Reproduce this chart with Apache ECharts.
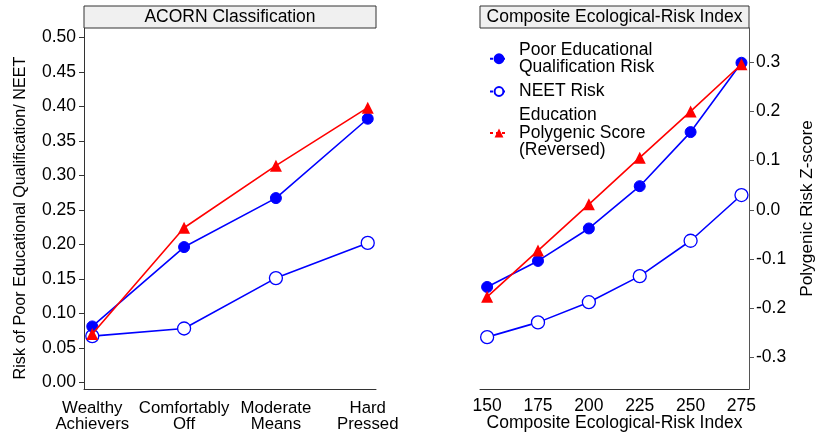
<!DOCTYPE html>
<html>
<head>
<meta charset="utf-8">
<script src="https://cdn.jsdelivr.net/npm/echarts@6/dist/echarts.min.js"></script>
<style>html,body{margin:0;padding:0;background:#fff}#c{width:824px;height:432px}</style>
</head>
<body>
<div id="c"></div>
<script>
// ---- data ----
const acornCategories = ['Wealthy\nAchievers', 'Comfortably\nOff', 'Moderate\nMeans', 'Hard\nPressed'];
const acornPoorEdu = [0.081, 0.196, 0.267, 0.382];
const acornNeet = [0.067, 0.078, 0.151, 0.202];
const acornPgs = [0.070, 0.224, 0.314, 0.398];

const eriIndex = [150, 175, 200, 225, 250, 275];
const eriPoorEdu = [-0.157, -0.104, -0.038, 0.048, 0.158, 0.299];
const eriNeet = [-0.259, -0.229, -0.188, -0.135, -0.063, 0.030];
const eriPgs = [-0.177, -0.083, 0.011, 0.106, 0.200, 0.296];

const leftYTicks = [0, 0.05, 0.10, 0.15, 0.20, 0.25, 0.30, 0.35, 0.40, 0.45, 0.50];
const rightYTicks = [-0.3, -0.2, -0.1, 0.0, 0.1, 0.2, 0.3];

const seriesNames = ['Poor Educational\nQualification Risk', 'NEET Risk', 'Education\nPolygenic Score\n(Reversed)'];
const panelTitles = ['ACORN Classification', 'Composite Ecological-Risk Index'];
const leftYTitle = 'Risk of Poor Educational Qualification/ NEET';

// ---- chart ----
const FONT = 'Liberation Sans, Arial, Helvetica, sans-serif';
const FS = 17.5;
const BLUE = '#0000ff', RED = '#ff0000', AX = '#333';
const chart = echarts.init(document.getElementById('c'), null, {renderer: 'canvas'});

const pair = (xs, ys) => xs.map((x, i) => [x, ys[i]]);
const acornIdx = acornCategories.map((_, i) => i);

function mkSeries(name, xi, yi, data, kind) {
  const base = {
    name, type: 'line', xAxisIndex: xi, yAxisIndex: yi, data,
    animation: false, symbolSize: 11,
    lineStyle: {width: 1.6, color: kind === 'pgs' ? RED : BLUE}
  };
  if (kind === 'poor') {
    base.symbol = 'circle';
    base.itemStyle = {color: BLUE, borderColor: BLUE, borderWidth: 1};
    base.z = 3;
  } else if (kind === 'neet') {
    base.symbol = 'circle';
    base.symbolSize = 13;
    base.itemStyle = {color: '#fff', borderColor: BLUE, borderWidth: 1.3};
    base.z = 2;
  } else {
    base.symbol = 'triangle';
    base.symbolSize = 12;
    base.itemStyle = {color: RED, borderColor: RED, borderWidth: 0};
    base.z = 4;
  }
  return base;
}

const option = {
  backgroundColor: '#fff',
  textStyle: {fontFamily: FONT, color: '#000'},
  grid: [
    {left: 84, top: 28, width: 292, height: 361, outerBoundsMode: 'none', containLabel: false},
    {left: 480, top: 28, width: 269, height: 361, outerBoundsMode: 'none', containLabel: false}
  ],
  xAxis: [
    {
      type: 'value', gridIndex: 0, min: -0.09, max: 3.09,
      splitLine: {show: false},
      axisLine: {show: true, onZero: false, lineStyle: {color: AX, width: 1}},
      axisTick: {show: false},
      axisLabel: {
        customValues: acornIdx, margin: 11, fontSize: 16.8, lineHeight: 16,
        color: '#000', fontFamily: FONT,
        formatter: v => acornCategories[Math.round(v)] || ''
      }
    },
    {
      type: 'value', gridIndex: 1, min: 146.5, max: 278.7,
      splitLine: {show: false},
      axisLine: {show: true, onZero: false, lineStyle: {color: AX, width: 1}},
      axisTick: {show: false},
      axisLabel: {customValues: eriIndex, margin: 8, fontSize: FS, color: '#000', fontFamily: FONT},
      name: 'Composite Ecological-Risk Index', nameLocation: 'middle', nameGap: 25,
      nameMoveOverlap: false,
      nameTextStyle: {fontSize: FS, color: '#000', fontFamily: FONT}
    }
  ],
  yAxis: [
    {
      type: 'value', gridIndex: 0, min: -0.0097, max: 0.5135,
      splitLine: {show: false},
      axisLine: {show: true, onZero: false, lineStyle: {color: AX, width: 1}},
      axisTick: {show: true, customValues: leftYTicks, length: 5, lineStyle: {color: AX}},
      axisLabel: {customValues: leftYTicks, margin: 8, fontSize: FS, color: '#000', fontFamily: FONT,
        formatter: v => v.toFixed(2)}
    },
    {
      type: 'value', gridIndex: 1, position: 'right', min: -0.3645, max: 0.3697,
      splitLine: {show: false},
      axisLine: {show: true, onZero: false, lineStyle: {color: '#555', width: 1}},
      axisTick: {show: true, customValues: rightYTicks, length: 5, lineStyle: {color: '#555'}},
      axisLabel: {customValues: rightYTicks, margin: 7, fontSize: FS, color: '#000', fontFamily: FONT,
        formatter: v => v.toFixed(1)},
      name: 'Polygenic Risk Z-score', nameLocation: 'middle', nameGap: 50, nameRotate: 90,
      nameMoveOverlap: false,
      nameTextStyle: {fontSize: 17.3, color: '#000', fontFamily: FONT}
    }
  ],
  legend: {
    orient: 'vertical', left: 484, top: 36, itemGap: 6,
    itemWidth: 18, itemHeight: 11,
    data: seriesNames,
    textStyle: {fontSize: FS, lineHeight: 17.5, color: '#000', fontFamily: FONT, padding: [0, 0, 0, 6]},
    lineStyle: {type: [3, 3]},
    selectedMode: false
  },
  graphic: [
    {type: 'rect', shape: {x: 84, y: 6, width: 292, height: 22}, style: {fill: '#f0f0f0', stroke: AX, lineWidth: 1}, z: 10},
    {type: 'text', x: 230, y: 17, style: {text: panelTitles[0], font: FS + 'px ' + FONT, fill: '#000', align: 'center', verticalAlign: 'middle'}, z: 11},
    {type: 'rect', shape: {x: 480, y: 6, width: 269, height: 22}, style: {fill: '#f0f0f0', stroke: AX, lineWidth: 1}, z: 10},
    {type: 'text', x: 614.5, y: 17, style: {text: panelTitles[1], font: FS + 'px ' + FONT, fill: '#000', align: 'center', verticalAlign: 'middle'}, z: 11},
    {type: 'text', x: 21, y: 218, rotation: Math.PI / 2, style: {text: leftYTitle, font: '16.2px ' + FONT, fill: '#000', align: 'center', verticalAlign: 'middle'}, z: 11}
  ],
  series: [
    mkSeries(seriesNames[0], 0, 0, pair(acornIdx, acornPoorEdu), 'poor'),
    mkSeries(seriesNames[1], 0, 0, pair(acornIdx, acornNeet), 'neet'),
    mkSeries(seriesNames[2], 0, 0, pair(acornIdx, acornPgs), 'pgs'),
    mkSeries(seriesNames[0], 1, 1, pair(eriIndex, eriPoorEdu), 'poor'),
    mkSeries(seriesNames[1], 1, 1, pair(eriIndex, eriNeet), 'neet'),
    mkSeries(seriesNames[2], 1, 1, pair(eriIndex, eriPgs), 'pgs')
  ]
};
chart.setOption(option);
</script>
</body>
</html>
